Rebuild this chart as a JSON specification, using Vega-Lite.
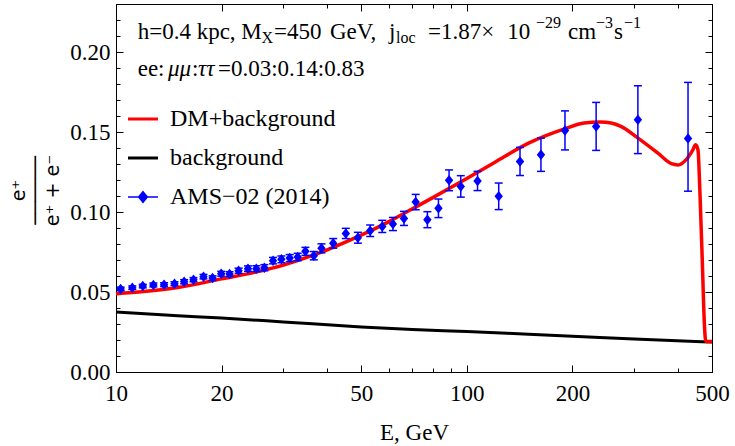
{
  "$schema": "https://vega.github.io/schema/vega-lite/v6.json",
  "width": 596,
  "height": 368,
  "autosize": {"type": "none"},
  "padding": {"left": 116, "top": 4, "right": 23, "bottom": 74},
  "background": "white",
  "config": {"view": {"stroke": "black", "strokeWidth": 1}, "axis": {"grid": false}},
  "datasets": {
    "ams": [
      {"E": 10.31, "f": 0.0519, "lo": 0.0508, "hi": 0.0530, "series": "AMS−02 (2014)"},
      {"E": 11.13, "f": 0.0527, "lo": 0.0516, "hi": 0.0538, "series": "AMS−02 (2014)"},
      {"E": 11.92, "f": 0.0537, "lo": 0.0526, "hi": 0.0548, "series": "AMS−02 (2014)"},
      {"E": 12.78, "f": 0.0544, "lo": 0.0532, "hi": 0.0556, "series": "AMS−02 (2014)"},
      {"E": 13.71, "f": 0.0546, "lo": 0.0534, "hi": 0.0558, "series": "AMS−02 (2014)"},
      {"E": 14.68, "f": 0.0552, "lo": 0.0540, "hi": 0.0564, "series": "AMS−02 (2014)"},
      {"E": 15.64, "f": 0.0564, "lo": 0.0551, "hi": 0.0577, "series": "AMS−02 (2014)"},
      {"E": 16.63, "f": 0.0577, "lo": 0.0564, "hi": 0.0590, "series": "AMS−02 (2014)"},
      {"E": 17.76, "f": 0.0596, "lo": 0.0582, "hi": 0.0610, "series": "AMS−02 (2014)"},
      {"E": 18.85, "f": 0.0587, "lo": 0.0573, "hi": 0.0601, "series": "AMS−02 (2014)"},
      {"E": 19.95, "f": 0.0614, "lo": 0.0599, "hi": 0.0629, "series": "AMS−02 (2014)"},
      {"E": 21.07, "f": 0.0612, "lo": 0.0597, "hi": 0.0627, "series": "AMS−02 (2014)"},
      {"E": 22.36, "f": 0.0633, "lo": 0.0617, "hi": 0.0649, "series": "AMS−02 (2014)"},
      {"E": 23.78, "f": 0.0646, "lo": 0.0629, "hi": 0.0663, "series": "AMS−02 (2014)"},
      {"E": 25.12, "f": 0.0646, "lo": 0.0628, "hi": 0.0664, "series": "AMS−02 (2014)"},
      {"E": 26.48, "f": 0.0652, "lo": 0.0633, "hi": 0.0671, "series": "AMS−02 (2014)"},
      {"E": 28.03, "f": 0.0696, "lo": 0.0676, "hi": 0.0716, "series": "AMS−02 (2014)"},
      {"E": 29.61, "f": 0.0704, "lo": 0.0683, "hi": 0.0725, "series": "AMS−02 (2014)"},
      {"E": 31.27, "f": 0.0712, "lo": 0.0690, "hi": 0.0734, "series": "AMS−02 (2014)"},
      {"E": 32.96, "f": 0.0719, "lo": 0.0696, "hi": 0.0742, "series": "AMS−02 (2014)"},
      {"E": 34.67, "f": 0.0754, "lo": 0.0729, "hi": 0.0779, "series": "AMS−02 (2014)"},
      {"E": 36.63, "f": 0.0727, "lo": 0.0701, "hi": 0.0753, "series": "AMS−02 (2014)"},
      {"E": 38.52, "f": 0.0773, "lo": 0.0745, "hi": 0.0801, "series": "AMS−02 (2014)"},
      {"E": 41.61, "f": 0.0804, "lo": 0.0774, "hi": 0.0834, "series": "AMS−02 (2014)"},
      {"E": 45.20, "f": 0.0866, "lo": 0.0834, "hi": 0.0898, "series": "AMS−02 (2014)"},
      {"E": 48.92, "f": 0.0839, "lo": 0.0805, "hi": 0.0873, "series": "AMS−02 (2014)"},
      {"E": 53.04, "f": 0.0883, "lo": 0.0847, "hi": 0.0919, "series": "AMS−02 (2014)"},
      {"E": 57.42, "f": 0.0910, "lo": 0.0872, "hi": 0.0948, "series": "AMS−02 (2014)"},
      {"E": 61.58, "f": 0.0925, "lo": 0.0884, "hi": 0.0966, "series": "AMS−02 (2014)"},
      {"E": 66.20, "f": 0.0960, "lo": 0.0916, "hi": 0.1004, "series": "AMS−02 (2014)"},
      {"E": 71.50, "f": 0.1062, "lo": 0.1014, "hi": 0.1110, "series": "AMS−02 (2014)"},
      {"E": 77.21, "f": 0.0952, "lo": 0.0902, "hi": 0.1002, "series": "AMS−02 (2014)"},
      {"E": 83.02, "f": 0.1023, "lo": 0.0965, "hi": 0.1081, "series": "AMS−02 (2014)"},
      {"E": 89.01, "f": 0.1198, "lo": 0.1133, "hi": 0.1263, "series": "AMS−02 (2014)"},
      {"E": 96.13, "f": 0.1160, "lo": 0.1093, "hi": 0.1227, "series": "AMS−02 (2014)"},
      {"E": 107.3, "f": 0.1194, "lo": 0.1134, "hi": 0.1254, "series": "AMS−02 (2014)"},
      {"E": 123.3, "f": 0.1098, "lo": 0.1015, "hi": 0.1181, "series": "AMS−02 (2014)"},
      {"E": 141.8, "f": 0.1316, "lo": 0.1228, "hi": 0.1404, "series": "AMS−02 (2014)"},
      {"E": 162.7, "f": 0.1358, "lo": 0.1254, "hi": 0.1462, "series": "AMS−02 (2014)"},
      {"E": 190.5, "f": 0.1510, "lo": 0.1388, "hi": 0.1632, "series": "AMS−02 (2014)"},
      {"E": 233.7, "f": 0.1535, "lo": 0.1385, "hi": 0.1685, "series": "AMS−02 (2014)"},
      {"E": 307.4, "f": 0.1577, "lo": 0.1365, "hi": 0.1789, "series": "AMS−02 (2014)"},
      {"E": 427.2, "f": 0.1460, "lo": 0.1130, "hi": 0.1810, "series": "AMS−02 (2014)"}
    ],
    "dm": [
      {"E": 10, "f": 0.0489, "series": "DM+background"},
      {"E": 12, "f": 0.0503, "series": "DM+background"},
      {"E": 15, "f": 0.0528, "series": "DM+background"},
      {"E": 20, "f": 0.0582, "series": "DM+background"},
      {"E": 25, "f": 0.0624, "series": "DM+background"},
      {"E": 30, "f": 0.0668, "series": "DM+background"},
      {"E": 35, "f": 0.0716, "series": "DM+background"},
      {"E": 40, "f": 0.0764, "series": "DM+background"},
      {"E": 50, "f": 0.0855, "series": "DM+background"},
      {"E": 60, "f": 0.0940, "series": "DM+background"},
      {"E": 70, "f": 0.1020, "series": "DM+background"},
      {"E": 80, "f": 0.1090, "series": "DM+background"},
      {"E": 100, "f": 0.1210, "series": "DM+background"},
      {"E": 120, "f": 0.1310, "series": "DM+background"},
      {"E": 150, "f": 0.1430, "series": "DM+background"},
      {"E": 190, "f": 0.1519, "series": "DM+background"},
      {"E": 216, "f": 0.1556, "series": "DM+background"},
      {"E": 240, "f": 0.1562, "series": "DM+background"},
      {"E": 258, "f": 0.1556, "series": "DM+background"},
      {"E": 275, "f": 0.1535, "series": "DM+background"},
      {"E": 307, "f": 0.1463, "series": "DM+background"},
      {"E": 350, "f": 0.1369, "series": "DM+background"},
      {"E": 383, "f": 0.1302, "series": "DM+background"},
      {"E": 400, "f": 0.1294, "series": "DM+background"},
      {"E": 422, "f": 0.1327, "series": "DM+background"},
      {"E": 441, "f": 0.1389, "series": "DM+background"},
      {"E": 449, "f": 0.1420, "series": "DM+background"},
      {"E": 456, "f": 0.1389, "series": "DM+background"},
      {"E": 462, "f": 0.1119, "series": "DM+background"},
      {"E": 469, "f": 0.0702, "series": "DM+background"},
      {"E": 476, "f": 0.0285, "series": "DM+background"},
      {"E": 480, "f": 0.0191, "series": "DM+background"},
      {"E": 500, "f": 0.0191, "series": "DM+background"}
    ],
    "bg": [
      {"E": 10, "f": 0.0375, "series": "background"},
      {"E": 15, "f": 0.0352, "series": "background"},
      {"E": 20, "f": 0.0337, "series": "background"},
      {"E": 30, "f": 0.0313, "series": "background"},
      {"E": 50, "f": 0.0282, "series": "background"},
      {"E": 70, "f": 0.0266, "series": "background"},
      {"E": 100, "f": 0.0253, "series": "background"},
      {"E": 150, "f": 0.0236, "series": "background"},
      {"E": 200, "f": 0.0224, "series": "background"},
      {"E": 300, "f": 0.0206, "series": "background"},
      {"E": 500, "f": 0.0187, "series": "background"}
    ],
    "txt": [
      {"E": 11.53, "f": 0.2081, "t": "h=0.4 kpc, M"},
      {"E": 28.21, "f": 0.2081, "t": "=450"},
      {"E": 40.74, "f": 0.2081, "t": "GeV,"},
      {"E": 60.01, "f": 0.2081, "t": "j"},
      {"E": 77.52, "f": 0.2081, "t": "=1.87×"},
      {"E": 130.5, "f": 0.2081, "t": "10"},
      {"E": 194.3, "f": 0.2081, "t": "cm"},
      {"E": 262.8, "f": 0.2081, "t": "s"},
      {"E": 11.53, "f": 0.1847, "t": "ee:"},
      {"E": 16.47, "f": 0.1847, "t": ":"},
      {"E": 19.53, "f": 0.1847, "t": "=0.03:0.14:0.83"}
    ],
    "txt_it": [
      {"E": 14.07, "f": 0.1847, "t": "μμ"},
      {"E": 17.13, "f": 0.1847, "t": "ττ"}
    ],
    "txt_small": [
      {"E": 25.99, "f": 0.2056, "t": "X"},
      {"E": 62.84, "f": 0.2056, "t": "loc"},
      {"E": 157.5, "f": 0.2148, "t": "−29"},
      {"E": 233.5, "f": 0.2148, "t": "−3"},
      {"E": 280.6, "f": 0.2148, "t": "−1"}
    ]
  },
  "resolve": {"axis": {"x": "independent", "y": "independent"}},
  "layer": [
    {
      "data": {"name": "bg"},
      "mark": {"type": "line", "strokeWidth": 3, "interpolate": "monotone"},
      "encoding": {
        "x": {
          "field": "E", "type": "quantitative",
          "scale": {"type": "log", "domain": [10, 500], "nice": false},
          "axis": {
            "orient": "bottom",
            "values": [10, 20, 30, 40, 50, 60, 70, 80, 90, 100, 200, 300, 400, 500],
            "labelExpr": "indexof([10,20,50,100,200,500], datum.value) >= 0 ? '' + datum.value : ''",
            "tickSize": {"condition": {"test": "indexof([10,20,50,100,200,500], datum.value) >= 0", "value": -7}, "value": -4},
            "tickColor": "black", "tickWidth": 1,
            "domainColor": "black", "domainWidth": 1,
            "labelFont": "Liberation Serif, DejaVu Serif, serif", "labelFontSize": 23, "labelColor": "black",
            "labelBaseline": "alphabetic", "labelPadding": 35, "labelFlush": false, "labelOverlap": false,
            "title": "E, GeV", "titleFont": "Liberation Serif, DejaVu Serif, serif", "titleFontSize": 23, "titleFontWeight": "normal",
            "titleColor": "black", "titleBaseline": "alphabetic", "titleY": 67
          }
        },
        "y": {
          "field": "f", "type": "quantitative",
          "scale": {"domain": [0, 0.23], "nice": false, "zero": false},
          "axis": {
            "orient": "left",
            "values": [0, 0.01, 0.02, 0.03, 0.04, 0.05, 0.06, 0.07, 0.08, 0.09, 0.1, 0.11, 0.12, 0.13, 0.14, 0.15, 0.16, 0.17, 0.18, 0.19, 0.2, 0.21, 0.22, 0.23],
            "labelExpr": "abs(datum.value*20 - round(datum.value*20)) < 0.001 ? format(datum.value, '.2f') : ''",
            "tickSize": {"condition": {"test": "abs(datum.value*20 - round(datum.value*20)) < 0.001", "value": -7}, "value": -4},
            "tickColor": "black", "tickWidth": 1,
            "domainColor": "black", "domainWidth": 1,
            "labelFont": "Liberation Serif, DejaVu Serif, serif", "labelFontSize": 23, "labelColor": "black",
            "labelAlign": "right", "labelBaseline": "middle", "labelPadding": 13, "labelFlush": false, "labelOverlap": false,
            "title": ["e⁺", "──────", "e⁺ + e⁻"],
            "titleFont": "DejaVu Sans", "titleFontSize": 19, "titleFontWeight": "normal", "titleColor": "black",
            "titleAngle": -90, "titleAlign": "center", "titleBaseline": "middle",
            "titleX": -98, "titleY": 186, "titleLineHeight": 17
          }
        },
        "color": {
          "field": "series", "type": "nominal",
          "scale": {"domain": ["DM+background", "background", "AMS−02 (2014)"], "range": ["#ff0000", "#000000", "#0000ff"]},
          "legend": {
            "orient": "none", "legendX": 15, "legendY": 103, "title": null, "padding": 0,
            "labelFont": "Liberation Serif, DejaVu Serif, serif", "labelFontSize": 24, "labelColor": "black", "labelOffset": 15, "labelLimit": 400,
            "symbolType": "stroke", "symbolSize": 900, "symbolStrokeWidth": 3, "rowPadding": 15,
            "encode": {
              "symbols": {
                "update": {
                  "shape": {"signal": "datum.value === 'AMS−02 (2014)' ? 'M-1,0H1M0,-0.36L0.29,0L0,0.36L-0.29,0Z' : 'stroke'"},
                  "fill": {"signal": "datum.value === 'AMS−02 (2014)' ? '#0000ff' : 'transparent'"},
                  "stroke": {"signal": "datum.value === 'AMS−02 (2014)' ? '#0000ff' : (datum.value === 'background' ? '#000000' : '#ff0000')"},
                  "strokeWidth": {"signal": "datum.value === 'AMS−02 (2014)' ? 1.5 : 3"},
                  "opacity": {"value": 1}
                }
              }
            }
          }
        }
      }
    },
    {
      "data": {"name": "dm"},
      "mark": {"type": "line", "strokeWidth": 3.5, "interpolate": "monotone", "strokeJoin": "round"},
      "encoding": {
        "x": {
          "field": "E", "type": "quantitative",
          "axis": {
            "orient": "top", "labels": false, "title": null,
            "values": [10, 20, 30, 40, 50, 60, 70, 80, 90, 100, 200, 300, 400, 500],
            "tickSize": {"condition": {"test": "indexof([10,20,50,100,200,500], datum.value) >= 0", "value": -7}, "value": -4},
            "tickColor": "black", "tickWidth": 1, "domainColor": "black", "domainWidth": 1
          }
        },
        "y": {
          "field": "f", "type": "quantitative",
          "axis": {
            "orient": "right", "labels": false, "title": null,
            "values": [0, 0.01, 0.02, 0.03, 0.04, 0.05, 0.06, 0.07, 0.08, 0.09, 0.1, 0.11, 0.12, 0.13, 0.14, 0.15, 0.16, 0.17, 0.18, 0.19, 0.2, 0.21, 0.22, 0.23],
            "tickSize": {"condition": {"test": "abs(datum.value*20 - round(datum.value*20)) < 0.001", "value": -7}, "value": -4},
            "tickColor": "black", "tickWidth": 1, "domainColor": "black", "domainWidth": 1
          }
        },
        "color": {"field": "series", "type": "nominal"}
      }
    },
    {
      "data": {"name": "ams"},
      "mark": {"type": "rule", "color": "#0000ff", "strokeWidth": 1.5},
      "encoding": {
        "x": {"field": "E", "type": "quantitative", "axis": null},
        "y": {"field": "lo", "type": "quantitative", "axis": null},
        "y2": {"field": "hi"}
      }
    },
    {
      "data": {"name": "ams"},
      "mark": {"type": "tick", "color": "#0000ff", "orient": "horizontal", "size": 8, "thickness": 1.5, "opacity": 1},
      "encoding": {
        "x": {"field": "E", "type": "quantitative", "axis": null},
        "y": {"field": "lo", "type": "quantitative", "axis": null}
      }
    },
    {
      "data": {"name": "ams"},
      "mark": {"type": "tick", "color": "#0000ff", "orient": "horizontal", "size": 8, "thickness": 1.5, "opacity": 1},
      "encoding": {
        "x": {"field": "E", "type": "quantitative", "axis": null},
        "y": {"field": "hi", "type": "quantitative", "axis": null}
      }
    },
    {
      "data": {"name": "ams"},
      "mark": {"type": "point", "shape": "M0,-1L0.8,0L0,1L-0.8,0Z", "size": 110, "filled": true, "opacity": 1, "strokeWidth": 0},
      "encoding": {
        "x": {"field": "E", "type": "quantitative", "axis": null},
        "y": {"field": "f", "type": "quantitative", "axis": null},
        "color": {"field": "series", "type": "nominal"}
      }
    },
    {
      "data": {"name": "txt"},
      "mark": {"type": "text", "align": "left", "baseline": "alphabetic", "font": "Liberation Serif, DejaVu Serif, serif", "fontSize": 23, "color": "black"},
      "encoding": {
        "x": {"field": "E", "type": "quantitative", "axis": null},
        "y": {"field": "f", "type": "quantitative", "axis": null},
        "text": {"field": "t"}
      }
    },
    {
      "data": {"name": "txt_it"},
      "mark": {"type": "text", "align": "left", "baseline": "alphabetic", "font": "Liberation Serif, DejaVu Serif, serif", "fontStyle": "italic", "fontSize": 23, "color": "black"},
      "encoding": {
        "x": {"field": "E", "type": "quantitative", "axis": null},
        "y": {"field": "f", "type": "quantitative", "axis": null},
        "text": {"field": "t"}
      }
    },
    {
      "data": {"name": "txt_small"},
      "mark": {"type": "text", "align": "left", "baseline": "alphabetic", "font": "Liberation Serif, DejaVu Serif, serif", "fontSize": 16, "color": "black"},
      "encoding": {
        "x": {"field": "E", "type": "quantitative", "axis": null},
        "y": {"field": "f", "type": "quantitative", "axis": null},
        "text": {"field": "t"}
      }
    }
  ]
}
